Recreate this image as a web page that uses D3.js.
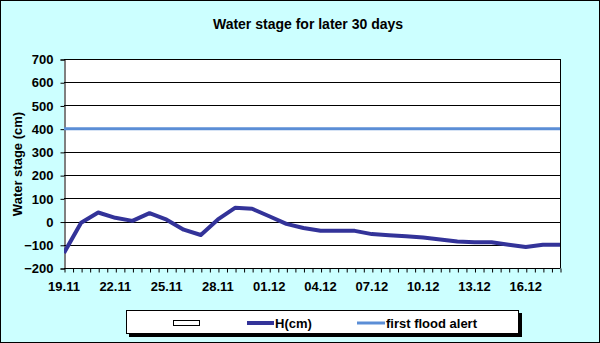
<!DOCTYPE html>
<html><head><meta charset="utf-8">
<script src="https://cdn.jsdelivr.net/npm/d3@7"></script>
<style>body{margin:0;padding:0;}svg{display:block;}</style>
</head><body>
<script>
const categories = ["19.11","20.11","21.11","22.11","23.11","24.11","25.11","26.11","27.11","28.11","29.11","30.11","01.12","02.12","03.12","04.12","05.12","06.12","07.12","08.12","09.12","10.12","11.12","12.12","13.12","14.12","15.12","16.12","17.12","18.12"];
const waterLevel = [-135,-5,39,16,3,36,8,-35,-58,9,59,55,23,-10,-28,-40,-40,-40,-54,-59,-63,-69,-77,-86,-89,-89,-100,-110,-100,-100];
const floodAlert = 400;
const yTicks = [-200,-100,0,100,200,300,400,500,600,700];
const xLabelStep = 3;
const title = "Water stage for later 30 days";
const yTitle = "Water stage (cm)";
const legendLabels = ["", "H(cm)", "first flood alert"];

const W = 600, H = 343;
const font = "'Liberation Sans', Arial, sans-serif";
const svg = d3.select("body").append("svg").attr("width", W).attr("height", H);
svg.append("rect").attr("x",0.5).attr("y",0.5).attr("width",W-1).attr("height",H-1)
  .attr("fill","#ccffff").attr("stroke","#000");

const L = 64, R = 560, T = 59, B = 268;
const x = d3.scaleLinear().domain([0, categories.length-1]).range([L, R]);
const y = d3.scaleLinear().domain([-200, 700]).range([B, T]);

svg.append("rect").attr("x",L).attr("y",T).attr("width",R-L).attr("height",B-T).attr("fill","#fff");

// gridlines
svg.append("g").selectAll("line").data(yTicks).join("line")
  .attr("x1",L).attr("x2",R).attr("y1",d=>Math.round(y(d))+0.5).attr("y2",d=>Math.round(y(d))+0.5)
  .attr("stroke","#000").attr("stroke-width",1);
svg.append("line").attr("x1",R+0.5).attr("x2",R+0.5).attr("y1",T).attr("y2",B).attr("stroke","#000");

// y axis
const yAxis = d3.axisLeft(y).tickValues(yTicks).tickSize(4).tickPadding(7);
const gy = svg.append("g").attr("transform",`translate(${L+0.5},0.5)`).call(yAxis);
gy.select(".domain").attr("stroke","#000");
gy.selectAll("text").attr("font-family",font).attr("font-weight","bold").attr("font-size","13px").attr("fill","#000");

// x axis with half-day minor ticks
const minor = d3.range(0, categories.length-1+0.001, 0.5);
const xAxis = d3.axisBottom(x).tickValues(minor).tickSize(4).tickFormat(()=>"");
const gx = svg.append("g").attr("transform",`translate(0.5,${Math.round(y(-200))+0.5})`).call(xAxis);
gx.select(".domain").attr("d",`M${L},0H${R}`).attr("stroke","#000");
svg.append("g").selectAll("text").data(categories.map((c,i)=>({c,i})).filter(d=>d.i%xLabelStep===0)).join("text")
  .attr("x",d=>x(d.i)).attr("y",291).attr("text-anchor","middle")
  .attr("font-family",font).attr("font-weight","bold").attr("font-size","13px").text(d=>d.c);

// flood alert line
svg.append("line").attr("x1",L).attr("x2",R).attr("y1",y(floodAlert)).attr("y2",y(floodAlert))
  .attr("stroke","#5b8ed6").attr("stroke-width",3);

// water level
const clip = svg.append("clipPath").attr("id","pc").append("rect").attr("x",L).attr("y",T-5).attr("width",R-L).attr("height",B-T+10);
svg.append("path").datum(waterLevel).attr("clip-path","url(#pc)")
  .attr("d", d3.line().x((d,i)=>x(i)).y(d=>y(d)))
  .attr("fill","none").attr("stroke","#333399").attr("stroke-width",4).attr("stroke-linejoin","round");

// titles
svg.append("text").attr("x",308).attr("y",29).attr("text-anchor","middle")
  .attr("font-family",font).attr("font-weight","bold").attr("font-size","14px").text(title);
svg.append("text").attr("transform","translate(22,164) rotate(-90)").attr("text-anchor","middle")
  .attr("font-family",font).attr("font-weight","bold").attr("font-size","13px").text(yTitle);

// legend
const lg = svg.append("g");
lg.append("rect").attr("x",129).attr("y",313).attr("width",393).attr("height",24).attr("fill","#000");
lg.append("rect").attr("x",126.5).attr("y",310.5).attr("width",392).attr("height",23).attr("fill","#fff").attr("stroke","#000");
lg.append("rect").attr("x",173.5).attr("y",320.5).attr("width",26).attr("height",5).attr("fill","#fff").attr("stroke","#000");
lg.append("line").attr("x1",247).attr("x2",274).attr("y1",323).attr("y2",323).attr("stroke","#333399").attr("stroke-width",4);
lg.append("text").attr("x",275).attr("y",328).attr("font-family",font).attr("font-weight","bold").attr("font-size","13px").text(legendLabels[1]);
lg.append("line").attr("x1",357).attr("x2",385).attr("y1",323).attr("y2",323).attr("stroke","#5b8ed6").attr("stroke-width",3);
lg.append("text").attr("x",386).attr("y",328).attr("font-family",font).attr("font-weight","bold").attr("font-size","13px").text(legendLabels[2]);
</script>
</body></html>
